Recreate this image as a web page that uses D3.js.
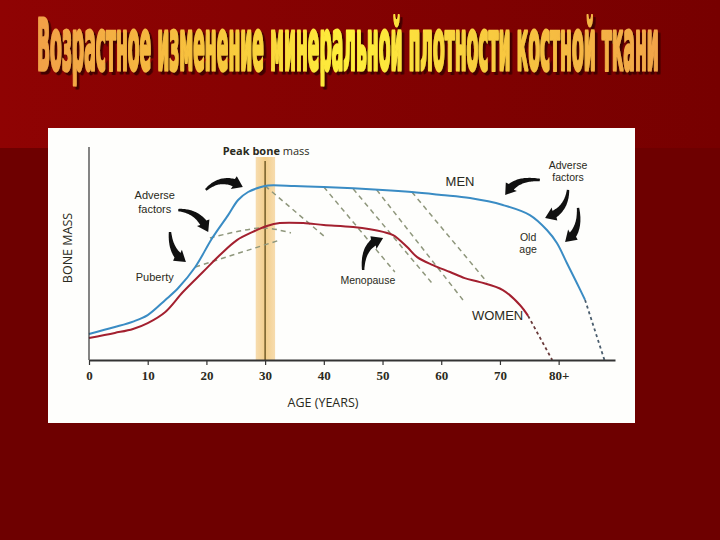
<!DOCTYPE html>
<html><head><meta charset="utf-8">
<script src="https://cdn.jsdelivr.net/npm/d3@7"></script>
<style>html,body{margin:0;padding:0;background:#6e0000;} svg{display:block}</style>
</head><body>
<svg id="c" width="720" height="540"></svg>
<script>
// ---------- data ----------
const titleText = "Возрастное изменение минеральной плотности костной ткани";
const tickValues = [0, 10, 20, 30, 40, 50, 60, 70, 80];
const tickLabels = ["0", "10", "20", "30", "40", "50", "60", "70", "80+"];

const menAge  = [0, 4.4, 7.5, 10, 13, 15.2, 18.1, 21, 23.7, 25.4, 27.1, 29.3, 30.5, 35, 40, 50, 55, 60, 64.9, 70.5, 75.1, 78, 79.7, 81.4, 83.1, 84.5];
const menMass = [12.4, 15.7, 18.3, 21.4, 28.6, 34.3, 44.3, 58.1, 69.0, 76.2, 80.0, 82.4, 83.1, 82.9, 82.4, 81.0, 80.0, 78.6, 77.1, 73.8, 69.0, 61.9, 55.7, 46.2, 36.7, 28.6];
const menTailAge  = [84.5, 87.8];
const menTailMass = [28.6, 0];

const womenAge  = [0, 4.4, 7.5, 10, 13, 16, 19.4, 22.3, 25.2, 27.9, 30.3, 32.5, 36.5, 40, 45, 50.1, 51.8, 54.2, 55.9, 58.6, 61.5, 64, 66.6, 70.5, 73.4, 74.8];
const womenMass = [10.5, 12.9, 14.8, 17.6, 22.9, 32.4, 41.9, 50.0, 57.1, 61.0, 63.8, 65.2, 65.2, 64.3, 63.3, 61.0, 59.5, 53.8, 49.0, 45.2, 41.9, 39.0, 37.1, 33.3, 26.2, 21.0];
const womenTailAge  = [74.8, 78.9];
const womenTailMass = [21.0, 0];

// loss lines after the peak
const declineStartAge  = [30, 40, 45, 49, 55];
const declineStartMass = [82.9, 82.4, 81.5, 81.0, 80.0];
const declineEndAge    = [40.2, 52.1, 58.4, 63.7, 67.8];
const declineEndMass   = [58.6, 41.9, 36.7, 28.6, 37.1];

// reduced peak lines (adverse factors during growth)
const reducedUpperAge  = [20.6, 29.5, 34.4];
const reducedUpperMass = [58.1, 62.9, 60.5];
const reducedLowerAge  = [18.1, 32.5];
const reducedLowerMass = [44.3, 57.1];

const peakBandAge = [28.4, 31.7];
const peakAge = 30;

// annotation arrows: [start, control, end] as [age, mass]
const arrowsData = [
  [[19.9, 81.0], [22.7, 88.5], [26.2, 82.4]],
  [[15.2, 71.4], [18.9, 71.0], [20.3, 61.0]],
  [[13.8, 61.0], [13.9, 50.5], [16.5, 46.7]],
  [[46.7, 42.9], [46.6, 55.5], [50.1, 58.1]],
  [[76.8, 85.7], [72.4, 87.0], [70.9, 78.6]],
  [[81.6, 81.0], [81.3, 70.5], [77.7, 67.6]],
  [[83.3, 72.4], [83.8, 61.0], [81.1, 56.2]]
];

// annotation labels: lines, age, mass of first line (centre), size
const labelLines = [["Adverse", "factors"], ["Puberty"], ["Menopause"], ["MEN"], ["WOMEN"], ["Adverse", "factors"], ["Old", "age"]];
const labelAge   = [11.2, 11.2, 47.5, 63.2, 69.6, 81.6, 74.8];
const labelMass  = [78.3, 39.5, 38.1, 85.2, 21.0, 92.9, 58.6];
const labelSize  = [11, 11, 10.5, 13, 13, 10.5, 10.5];

// ---------- drawing ----------
const svg = d3.select("#c");
const defs = svg.append("defs");

const bg = defs.append("linearGradient").attr("id", "bgTop").attr("x1", 0).attr("x2", 1).attr("y1", 0).attr("y2", 0);
bg.append("stop").attr("offset", 0).attr("stop-color", "#8f0303");
bg.append("stop").attr("offset", 1).attr("stop-color", "#770000");

const tg2 = defs.append("linearGradient").attr("id", "titleGrad2").attr("x1", 0).attr("x2", 1).attr("y1", 0).attr("y2", 0);
[[0, "#f2a047"], [0.3, "#f8c83c"], [0.5, "#fff03a"], [0.7, "#f9cf3e"], [1, "#f2a448"]]
  .forEach(s => tg2.append("stop").attr("offset", s[0]).attr("stop-color", s[1]));

const shadow = defs.append("filter").attr("id", "shadow").attr("x", "-5%").attr("y", "-20%").attr("width", "110%").attr("height", "140%");
shadow.append("feDropShadow").attr("dx", 10).attr("dy", 3).attr("stdDeviation", 0.6)
  .attr("flood-color", "#3a0000").attr("flood-opacity", 0.9);

const bandGrad = defs.append("linearGradient").attr("id", "bandGrad").attr("x1", 0).attr("x2", 1).attr("y1", 0).attr("y2", 0);
bandGrad.append("stop").attr("offset", 0).attr("stop-color", "#f7dcae");
bandGrad.append("stop").attr("offset", 0.5).attr("stop-color", "#f3cf8c");
bandGrad.append("stop").attr("offset", 1).attr("stop-color", "#f7dcae");

svg.append("rect").attr("width", 720).attr("height", 540).attr("fill", "#6e0000");
svg.append("rect").attr("width", 720).attr("height", 148).attr("fill", "url(#bgTop)");

// title: natural text, horizontally scaled to fit 37..662
const titleW = 622;
const tt = svg.append("text").attr("x", 0).attr("y", 0)
  .style("font-family", "'DejaVu Sans Condensed','DejaVu Sans',sans-serif")
  .style("font-weight", "bold").style("font-stretch", "condensed")
  .style("font-size", "72px")
  .attr("fill", "url(#titleGrad2)").attr("stroke", "url(#titleGrad2)")
  .attr("stroke-width", 3).attr("stroke-linejoin", "round")
  .attr("filter", "url(#shadow)")
  .text(titleText);
const tw = tt.node().getComputedTextLength();
const sx = titleW / tw;
tt.attr("transform", `translate(37,70) scale(${sx},1)`);

// panel
svg.append("rect").attr("x", 48).attr("y", 128).attr("width", 587).attr("height", 295).attr("fill", "#fefefc");

const x = d3.scaleLinear().domain([0, 89.6]).range([89, 615]);
const y = d3.scaleLinear().domain([0, 100]).range([360, 150]);

// peak bone mass band
svg.append("rect").attr("x", x(peakBandAge[0])).attr("y", 157)
  .attr("width", x(peakBandAge[1]) - x(peakBandAge[0])).attr("height", y(0) - 157)
  .attr("fill", "url(#bandGrad)");
svg.append("line").attr("x1", x(peakAge)).attr("x2", x(peakAge)).attr("y1", 161).attr("y2", y(0))
  .attr("stroke", "#6b5521").attr("stroke-width", 1.4);

const line = d3.line().x(d => x(d[0])).y(d => y(d[1])).curve(d3.curveCatmullRom.alpha(0.5));
const straight = d3.line().x(d => x(d[0])).y(d => y(d[1]));
const zip = (a, b) => a.map((v, i) => [v, b[i]]);

const dashColor = "#8f977c";
declineStartAge.forEach((a, i) => {
  svg.append("path").attr("d", straight([[a, declineStartMass[i]], [declineEndAge[i], declineEndMass[i]]]))
    .attr("fill", "none").attr("stroke", dashColor).attr("stroke-width", 1.5).attr("stroke-dasharray", "5,4");
});
svg.append("path").attr("d", line(zip(reducedUpperAge, reducedUpperMass)))
  .attr("fill", "none").attr("stroke", dashColor).attr("stroke-width", 1.5).attr("stroke-dasharray", "5,4");
svg.append("path").attr("d", straight(zip(reducedLowerAge, reducedLowerMass)))
  .attr("fill", "none").attr("stroke", dashColor).attr("stroke-width", 1.5).attr("stroke-dasharray", "5,4");

// main curves
svg.append("path").attr("d", line(zip(womenAge, womenMass)))
  .attr("fill", "none").attr("stroke", "#a3202f").attr("stroke-width", 2);
svg.append("path").attr("d", line(zip(menAge, menMass)))
  .attr("fill", "none").attr("stroke", "#3a8cc4").attr("stroke-width", 2);
svg.append("path").attr("d", straight(zip(womenTailAge, womenTailMass)))
  .attr("fill", "none").attr("stroke", "#6a3a3a").attr("stroke-width", 1.8).attr("stroke-dasharray", "3,3");
svg.append("path").attr("d", straight(zip(menTailAge, menTailMass)))
  .attr("fill", "none").attr("stroke", "#4b5e6e").attr("stroke-width", 1.8).attr("stroke-dasharray", "3,3");

// axes
const xAxis = d3.axisBottom(x).tickValues(tickValues).tickFormat((d, i) => tickLabels[i]).tickSize(5).tickSizeOuter(0);
const gx = svg.append("g").attr("transform", `translate(0,${y(0)})`).call(xAxis);
gx.select(".domain").attr("stroke", "#333").attr("stroke-width", 2);
gx.selectAll(".tick line").attr("stroke", "#333").attr("stroke-width", 1.2);
gx.selectAll(".tick text").attr("fill", "#2a2a20").attr("dy", "0.9em")
  .style("font-family", "'Liberation Serif',serif").style("font-size", "13px").style("font-weight", "bold");
svg.append("line").attr("x1", x(0)).attr("x2", x(0)).attr("y1", 147).attr("y2", y(0))
  .attr("stroke", "#333").attr("stroke-width", 1.2);

const txtFont = "'Open Sans',sans-serif";
const annFont = "'Liberation Sans',Arial,sans-serif";
svg.append("text").attr("x", 323).attr("y", 407).attr("text-anchor", "middle")
  .attr("fill", "#2a2a20").style("font-family", txtFont).style("font-size", "12.5px").text("AGE (YEARS)");
svg.append("text").attr("transform", "translate(72,248) rotate(-90)").attr("text-anchor", "middle")
  .attr("fill", "#2a2a20").style("font-family", txtFont).style("font-size", "12.5px").text("BONE MASS");
const peakT = svg.append("text").attr("x", x(peakAge) + 1).attr("y", 155).attr("text-anchor", "middle")
  .attr("fill", "#2a2a20").style("font-family", txtFont).style("font-size", "11px");
peakT.append("tspan").style("font-weight", "bold").text("Peak bone ");
peakT.append("tspan").text("mass");

labelLines.forEach((lines, i) => {
  const t = svg.append("text").attr("y", y(labelMass[i]))
    .attr("text-anchor", "middle").attr("fill", "#2a2a20")
    .style("font-family", annFont).style("font-size", labelSize[i] + "px");
  lines.forEach((s, j) => {
    t.append("tspan").attr("x", x(labelAge[i])).attr("dy", j === 0 ? "0.35em" : "1.2em").text(s);
  });
});

// arrows
function arrowPath(p0, p1, p2) {
  const N = 40, pts = [];
  for (let k = 0; k <= N; k++) {
    const t = k / N, u = 1 - t;
    pts.push([u*u*p0[0] + 2*u*t*p1[0] + t*t*p2[0], u*u*p0[1] + 2*u*t*p1[1] + t*t*p2[1]]);
  }
  const cum = [0];
  for (let k = 1; k <= N; k++) cum.push(cum[k-1] + Math.hypot(pts[k][0]-pts[k-1][0], pts[k][1]-pts[k-1][1]));
  const L = cum[N], headLen = 10, cut = L - headLen;
  const body = pts.filter((p, k) => cum[k] <= cut);
  const left = [], right = [];
  body.forEach((p, k) => {
    const q = body[Math.min(k+1, body.length-1)], r = body[Math.max(k-1, 0)];
    let dx = q[0]-r[0], dy = q[1]-r[1]; const n = Math.hypot(dx, dy) || 1; dx /= n; dy /= n;
    const w = 1.2 + 2.6 * (k / (body.length - 1));
    left.push([p[0] - dy*w, p[1] + dx*w]); right.push([p[0] + dy*w, p[1] - dx*w]);
  });
  const b = body[body.length-1];
  let dx = p2[0]-b[0], dy = p2[1]-b[1]; const n = Math.hypot(dx, dy) || 1; dx /= n; dy /= n;
  const hw = 7;
  const poly = [...left, [b[0] - dy*hw, b[1] + dx*hw], p2, [b[0] + dy*hw, b[1] - dx*hw], ...right.reverse()];
  return "M" + poly.map(p => p[0].toFixed(1) + "," + p[1].toFixed(1)).join("L") + "Z";
}
arrowsData.forEach(a => {
  const P = a.map(d => [x(d[0]), y(d[1])]);
  svg.append("path").attr("d", arrowPath(P[0], P[1], P[2])).attr("fill", "#111");
});
</script>
</body></html>
